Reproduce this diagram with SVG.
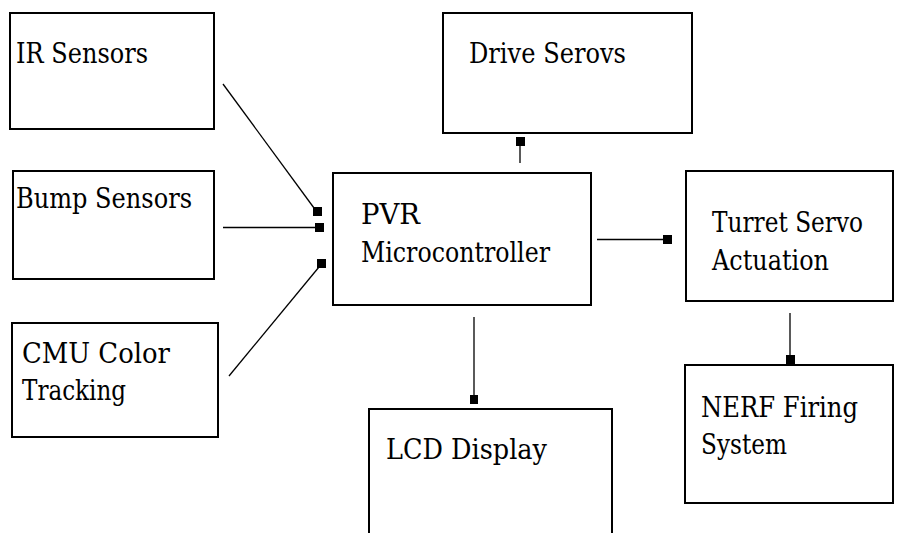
<svg xmlns="http://www.w3.org/2000/svg" width="903" height="533" viewBox="0 0 903 533">
<style>
.box{fill:#fff;stroke:#000;stroke-width:2}
text{font-family:'DejaVu Serif','Liberation Serif',serif;font-size:27px;fill:#000;lengthAdjust:spacingAndGlyphs}
.ln{stroke:#000;stroke-width:1.3;fill:none}
.sq{fill:#000}
</style>
<rect width="903" height="533" fill="#fff"/>
<g id="ir-sensors"><rect class="box" x="10" y="13" width="204" height="116"/><text x="16" y="63" textLength="132" lengthAdjust="spacingAndGlyphs">IR Sensors</text></g>
<g id="bump-sensors"><rect class="box" x="13" y="171" width="201" height="108"/><text x="16" y="208" textLength="176" lengthAdjust="spacingAndGlyphs">Bump Sensors</text></g>
<g id="cmu-color-tracking"><rect class="box" x="12" y="323" width="206" height="114"/><text x="22" y="363" textLength="148" lengthAdjust="spacingAndGlyphs">CMU Color</text><text x="22" y="400" textLength="104" lengthAdjust="spacingAndGlyphs">Tracking</text></g>
<g id="pvr-microcontroller"><rect class="box" x="333" y="173" width="258" height="132"/><text x="361" y="224" textLength="59" lengthAdjust="spacingAndGlyphs">PVR</text><text x="361" y="262" textLength="189" lengthAdjust="spacingAndGlyphs">Microcontroller</text></g>
<g id="drive-serovs"><rect class="box" x="443" y="13" width="249" height="120"/><text x="469" y="63" textLength="157" lengthAdjust="spacingAndGlyphs">Drive Serovs</text></g>
<g id="turret-servo-actuation"><rect class="box" x="686" y="171" width="207" height="130"/><text x="712" y="232" textLength="151" lengthAdjust="spacingAndGlyphs">Turret Servo</text><text x="712" y="270" textLength="117" lengthAdjust="spacingAndGlyphs">Actuation</text></g>
<g id="nerf-firing-system"><rect class="box" x="685" y="365" width="208" height="138"/><text x="701" y="417" textLength="157" lengthAdjust="spacingAndGlyphs">NERF Firing</text><text x="701" y="454" textLength="86" lengthAdjust="spacingAndGlyphs">System</text></g>
<g id="lcd-display"><rect class="box" x="369" y="409" width="243" height="140"/><text x="386" y="459" textLength="161" lengthAdjust="spacingAndGlyphs">LCD Display</text></g>
<g id="connectors">
<line class="ln" x1="223" y1="84" x2="314" y2="208"/><rect class="sq" x="313" y="207" width="9" height="9"/>
<line class="ln" x1="223" y1="227.5" x2="316" y2="227.5"/><rect class="sq" x="315" y="223" width="9" height="9"/>
<line class="ln" x1="229" y1="376" x2="319" y2="267"/><rect class="sq" x="317" y="259" width="9" height="9"/>
<line class="ln" x1="520" y1="163" x2="520" y2="144"/><rect class="sq" x="516" y="137" width="9" height="9"/>
<line class="ln" x1="597" y1="239.5" x2="664" y2="239.5"/><rect class="sq" x="663" y="235" width="9" height="9"/>
<line class="ln" x1="474" y1="317" x2="474" y2="396"/><rect class="sq" x="470" y="395" width="8" height="9"/>
<line class="ln" x1="790" y1="313" x2="790" y2="356"/><rect class="sq" x="786" y="355" width="9" height="9"/>
</g>
</svg>
